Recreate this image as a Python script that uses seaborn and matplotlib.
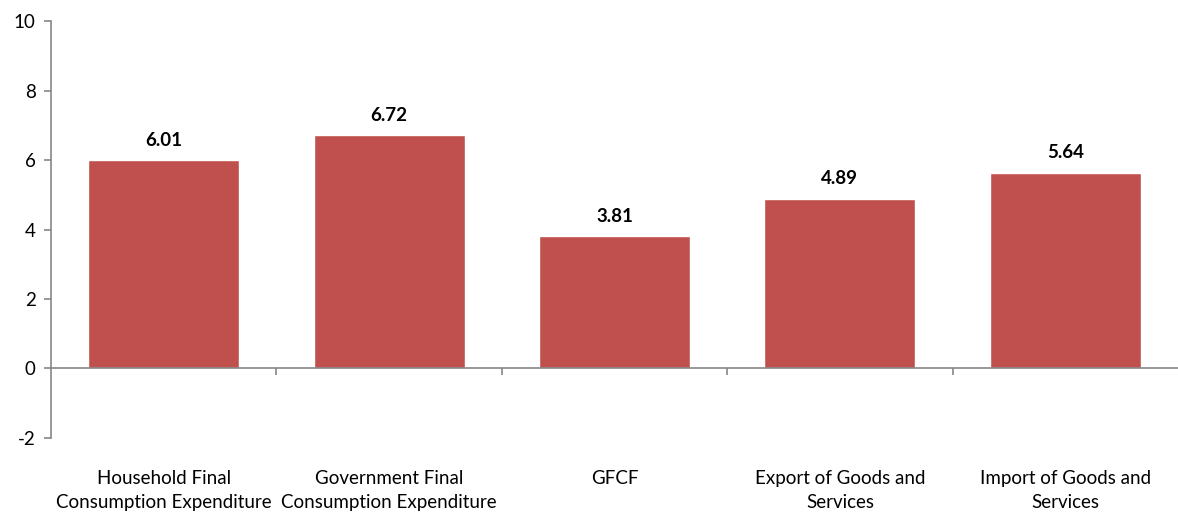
import matplotlib
matplotlib.use("Agg")
import matplotlib.pyplot as plt
import seaborn as sns
import pandas as pd
from matplotlib.ticker import FixedLocator

categories = ["Household Final\nConsumption Expenditure",
              "Government Final\nConsumption Expenditure",
              "GFCF",
              "Export of Goods and\nServices",
              "Import of Goods and\nServices"]
values = [6.01, 6.72, 3.81, 4.89, 5.64]
yticks = [-2, 0, 2, 4, 6, 8, 10]

sns.set_theme(style="white")
plt.rcParams['font.family'] = ['Lato', 'DejaVu Sans']

df = pd.DataFrame({"cat": categories, "val": values})

fig = plt.figure(figsize=(11.78, 5.14), dpi=100)
ax = fig.add_axes([0.0433, 0.148, 0.9567, 0.811])
sns.barplot(data=df, x="cat", y="val", color="#C0504D", saturation=1,
            width=0.67, ax=ax)

ax.set_ylim(-2, 10)
ax.set_xlim(-0.5, len(categories) - 0.5)
ax.set_yticks(yticks)
ax.set_yticklabels([str(t) for t in yticks], fontsize=13.5)
ax.set_xlabel("")
ax.set_ylabel("")

spine_c = "#868686"
for s in ["top", "right"]:
    ax.spines[s].set_visible(False)
ax.spines["left"].set_color(spine_c)
ax.spines["bottom"].set_color(spine_c)
ax.spines["bottom"].set_position(("data", 0))
ax.spines["left"].set_linewidth(1.2)
ax.spines["bottom"].set_linewidth(1.2)

ax.tick_params(axis="y", which="major", left=True, length=5, width=1.2,
               color=spine_c, labelsize=13.5, pad=6, labelcolor="black")
ax.xaxis.set_minor_locator(FixedLocator([i + 0.5 for i in range(len(categories) - 1)]))
ax.tick_params(axis="x", which="minor", bottom=True, length=5, width=1.2,
               color=spine_c)
ax.tick_params(axis="x", which="major", bottom=False, length=0, pad=73,
               labelsize=13.5, labelcolor="black")
for lbl in ax.get_xticklabels():
    lbl.set_linespacing(1.5)

for i, v in enumerate(values):
    ax.annotate(f"{v:.2f}", (i, v), xytext=(0, 8), textcoords="offset points",
                ha="center", va="bottom", fontsize=13.5, fontweight="bold",
                color="black")

fig.savefig("out.png", dpi=100)
